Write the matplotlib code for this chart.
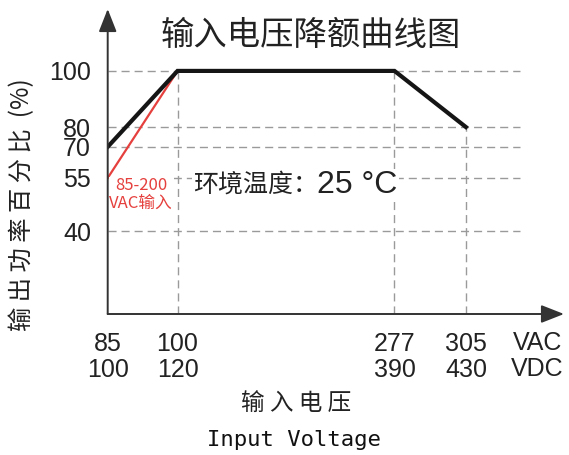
#!/usr/bin/env python3

import numpy as np
import matplotlib
matplotlib.use('Agg')
import matplotlib.pyplot as plt
from matplotlib.ticker import NullLocator


# values
vac_ticks = [85, 100, 277, 305]
vdc_ticks = [100, 120, 390, 430]
power_ticks = [40, 55, 70, 80, 100]

curve_vac = [85, 100, 277, 305]
curve_power = [70, 100, 100, 80]

low_vac = [85, 100]        # 85-200 VAC input
low_power = [55, 100]

# where the uneven ticks sit along each axis (fraction of axis length)
x_tick_pos = [0.0, 0.153, 0.6285, 0.785]
y_tick_pos = [0.272, 0.446, 0.548, 0.613, 0.797]

CJK = ['Noto Sans CJK SC', 'DejaVu Sans']
LATIN = ['Liberation Sans', 'Noto Sans CJK SC']
GRID = '#9a9a9a'
RED = '#e5403d'
INK = '#222222'


def piecewise_scale(vals, pos):
	vals = np.asarray(vals, float)
	pos = np.asarray(pos, float)
	lo = (pos[1] - pos[0]) / (vals[1] - vals[0])
	hi = (pos[-1] - pos[-2]) / (vals[-1] - vals[-2])

	def fwd(v):
		v = np.asarray(v, float)
		out = np.interp(v, vals, pos)
		out = np.where(v < vals[0], pos[0] + (v - vals[0]) * lo, out)
		return np.where(v > vals[-1], pos[-1] + (v - vals[-1]) * hi, out)

	def inv(p):
		p = np.asarray(p, float)
		out = np.interp(p, pos, vals)
		out = np.where(p < pos[0], vals[0] + (p - pos[0]) / lo, out)
		return np.where(p > pos[-1], vals[-1] + (p - pos[-1]) / hi, out)

	return fwd, inv


def spaced(s):
	return ' '.join(s)


fig = plt.figure(figsize=(5.69, 4.55), dpi=100)
ax = fig.add_axes([107.7 / 569, 141 / 455, 456.3 / 569, 305 / 455])

xf, xi = piecewise_scale(vac_ticks, x_tick_pos)
yf, yi = piecewise_scale(power_ticks, y_tick_pos)
ax.set_xscale('function', functions=(xf, xi))
ax.set_yscale('function', functions=(yf, yi))
ax.set_xlim(float(xi(0.0)), float(xi(1.0)))
ax.set_ylim(float(yi(0.0)), float(yi(1.0)))

for s in ax.spines.values():
	s.set_visible(False)

# dashed guide lines
dash = (0, (5.8, 3.6))
for p in power_ticks:
	ax.axhline(p, xmin=0, xmax=0.9025, color=GRID, lw=1, ls=dash, zorder=1)
ax.vlines(curve_vac[1:], ax.get_ylim()[0], curve_power[1:], color=GRID, lw=1, ls=dash, zorder=1)

# curves
ax.plot(low_vac, low_power, color=RED, lw=1.6, zorder=3)
ax.plot(curve_vac, curve_power, color='#151515', lw=3, zorder=4, solid_joinstyle='miter')

# axes with arrow heads
arrow = dict(arrowstyle='-|>,head_length=1.4,head_width=0.55', color='#333333', lw=1.4,
			 shrinkA=0, shrinkB=0, mutation_scale=10)
ax.annotate('', xy=(1, 0), xytext=(0, 0), xycoords='axes fraction', arrowprops=arrow, zorder=5)
ax.annotate('', xy=(0, 1), xytext=(0, 0), xycoords='axes fraction', arrowprops=arrow, zorder=5)

# ticks
ax.set_xticks(vac_ticks)
ax.set_xticklabels(['{}\n{}'.format(a, d) for a, d in zip(vac_ticks, vdc_ticks)],
				   family=LATIN, fontsize=18, linespacing=1.12, color=INK)
ax.set_yticks(power_ticks)
ax.set_yticklabels([str(p) for p in power_ticks], family=LATIN, fontsize=18, color=INK)
ax.xaxis.set_minor_locator(NullLocator())
ax.yaxis.set_minor_locator(NullLocator())
ax.tick_params(axis='x', length=0, pad=13)
ax.tick_params(axis='y', length=0, pad=12)

ax.text(0.941, -0.138, 'VAC\nVDC', transform=ax.transAxes, ha='center', va='center',
		family=LATIN, fontsize=18, linespacing=1.12, color=INK)

# texts
fig.text(311 / 569, 1 - 36 / 455, '输入电压降额曲线图', ha='center', va='center',
		 family=CJK, fontsize=24, color=INK)
fig.text(22 / 569, 1 - 205 / 455, spaced('输出功率百分比') + '  (%)', ha='center', va='center',
		 rotation=90, family=CJK, fontsize=17.5, color=INK)
fig.text(296 / 569, 1 - 403 / 455, spaced('输入电压'), ha='center', va='center',
		 family=CJK, fontsize=17, color=INK)
fig.text(294 / 569, 1 - 440 / 455, 'Input Voltage', ha='center', va='center',
		 family='DejaVu Sans Mono', fontsize=16, color='#111111')

box = dict(facecolor='white', edgecolor='none', pad=1)
ax.text(0.187, 0.423, '环境温度：', transform=ax.transAxes, ha='left', va='center',
		family=CJK, fontsize=18, color=INK, zorder=6, bbox=box)
ax.text(0.459, 0.423, '25 °C', transform=ax.transAxes, ha='left', va='center',
		family=LATIN, fontsize=23, color=INK, zorder=6, bbox=box)

ax.annotate('85-200\nVAC输入', xy=(low_vac[0], low_power[0]), xytext=(24, -12),
			textcoords='offset points', ha='center', va='center', color=RED,
			family=CJK, fontsize=12, linespacing=1.05, zorder=6,
			bbox=dict(facecolor='white', edgecolor='none', pad=0.5))

fig.savefig('out.png', dpi=100)
